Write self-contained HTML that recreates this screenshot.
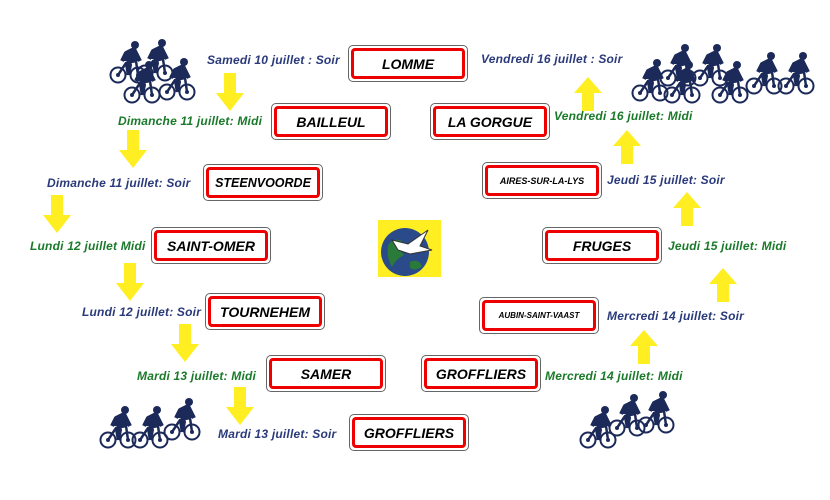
<!DOCTYPE html>
<html><head><meta charset="utf-8"><style>
body{margin:0;width:830px;height:500px;background:#fff;position:relative;overflow:hidden;font-family:"Liberation Sans",sans-serif}
.s{position:absolute;width:120px;height:37px;box-sizing:border-box;border:1px solid #666;border-radius:5px;background:#fff;padding:2px}
.s div{width:100%;height:100%;box-sizing:border-box;border:3px solid #e00;border-radius:4px;display:flex;align-items:center;justify-content:center;font-weight:bold;font-style:italic;font-size:14px;color:#000;white-space:nowrap}
.l{position:absolute;font-weight:bold;font-style:italic;font-size:12px;letter-spacing:0.2px;white-space:nowrap;line-height:12px}
.b{color:#2a3a7a}.g{color:#1a7a2a}
svg{position:absolute;left:0;top:0}
</style></head><body>
<svg width="830" height="500">
<defs>
<g id="cy" fill="none" stroke="#1c2a5a" stroke-width="2">
<circle cx="0" cy="0" r="7.5"/><circle cx="20" cy="0" r="7.5"/>
<circle cx="0" cy="0" r="1" fill="#1c2a5a"/><circle cx="20" cy="0" r="1" fill="#1c2a5a"/>
<path d="M0 0 L8 -12 L18 -14 L20 0 M8 -12 L10 0" stroke-width="2.5"/>
<path d="M4 -14 L8 -22 L16 -26 L20 -18 L22 -14 M8 -22 L12 -10 L10 0" fill="#1c2a5a" stroke-width="4" stroke-linejoin="round"/>
<circle cx="17" cy="-30" r="4" fill="#1c2a5a" stroke="none"/>
</g>
<polygon id="ad" points="-6,0 6,0 6,20 14,20 0,38 -14,20 -6,20" fill="#ffee22"/>
<polygon id="au" points="-6,34 6,34 6,16 14,16 0,0 -14,16 -6,16" fill="#ffee22"/>
</defs>
<use href="#cy" x="118" y="75"/><use href="#cy" x="145" y="73"/><use href="#cy" x="132" y="95"/><use href="#cy" x="167" y="92"/>
<use href="#cy" x="640" y="93"/><use href="#cy" x="668" y="78"/><use href="#cy" x="672" y="95"/><use href="#cy" x="700" y="78"/><use href="#cy" x="720" y="95"/><use href="#cy" x="754" y="86"/><use href="#cy" x="786" y="86"/>
<use href="#cy" x="108" y="440"/><use href="#cy" x="140" y="440"/><use href="#cy" x="172" y="432"/>
<use href="#cy" x="588" y="440"/><use href="#cy" x="617" y="428"/><use href="#cy" x="646" y="425"/>
<use href="#ad" x="230" y="73"/><use href="#ad" x="133" y="130"/><use href="#ad" x="57" y="195"/><use href="#ad" x="130" y="263"/><use href="#ad" x="185" y="324"/><use href="#ad" x="240" y="387"/>
<use href="#au" x="588" y="77"/><use href="#au" x="627" y="130"/><use href="#au" x="687" y="192"/><use href="#au" x="723" y="268"/><use href="#au" x="644" y="330"/>
<rect x="378" y="220" width="63" height="57" fill="#ffee22"/>
<circle cx="405" cy="252" r="24" fill="#2a4a8a"/>
<path d="M388 245 q6 -8 14 -4 q-4 8 2 14 q-8 4 -12 12 q-6 -10 -4 -22z M410 262 q8 -4 12 4 q-6 6 -12 2z" fill="#2a7a3a"/>
<path d="M392 240 L408 244 L428 230 L420 246 L432 250 L410 254 L398 250z" fill="#fff" stroke="#333" stroke-width="1"/>
</svg>
<div class="s" style="left:348px;top:45px"><div>LOMME</div></div>
<div class="s" style="left:271px;top:103px"><div>BAILLEUL</div></div>
<div class="s" style="left:430px;top:103px"><div>LA GORGUE</div></div>
<div class="s" style="left:203px;top:164px"><div style="font-size:12.5px">STEENVOORDE</div></div>
<div class="s" style="left:482px;top:162px"><div style="font-size:9px">AIRES-SUR-LA-LYS</div></div>
<div class="s" style="left:151px;top:227px"><div>SAINT-OMER</div></div>
<div class="s" style="left:542px;top:227px"><div>FRUGES</div></div>
<div class="s" style="left:205px;top:293px"><div>TOURNEHEM</div></div>
<div class="s" style="left:479px;top:297px"><div style="font-size:8px">AUBIN-SAINT-VAAST</div></div>
<div class="s" style="left:266px;top:355px"><div>SAMER</div></div>
<div class="s" style="left:421px;top:355px"><div>GROFFLIERS</div></div>
<div class="s" style="left:349px;top:414px"><div>GROFFLIERS</div></div>
<div class="l b" style="left:207px;top:54px">Samedi 10 juillet : Soir</div>
<div class="l g" style="left:118px;top:115px">Dimanche 11 juillet: Midi</div>
<div class="l b" style="left:47px;top:177px">Dimanche 11 juillet: Soir</div>
<div class="l g" style="left:30px;top:240px">Lundi 12 juillet Midi</div>
<div class="l b" style="left:82px;top:306px">Lundi 12 juillet: Soir</div>
<div class="l g" style="left:137px;top:370px">Mardi 13 juillet: Midi</div>
<div class="l b" style="left:218px;top:428px">Mardi 13 juillet: Soir</div>
<div class="l b" style="left:481px;top:53px">Vendredi 16 juillet : Soir</div>
<div class="l g" style="left:554px;top:110px">Vendredi 16 juillet: Midi</div>
<div class="l b" style="left:607px;top:174px">Jeudi 15 juillet: Soir</div>
<div class="l g" style="left:668px;top:240px">Jeudi 15 juillet: Midi</div>
<div class="l b" style="left:607px;top:310px">Mercredi 14 juillet: Soir</div>
<div class="l g" style="left:545px;top:370px">Mercredi 14 juillet: Midi</div>
</body></html>
